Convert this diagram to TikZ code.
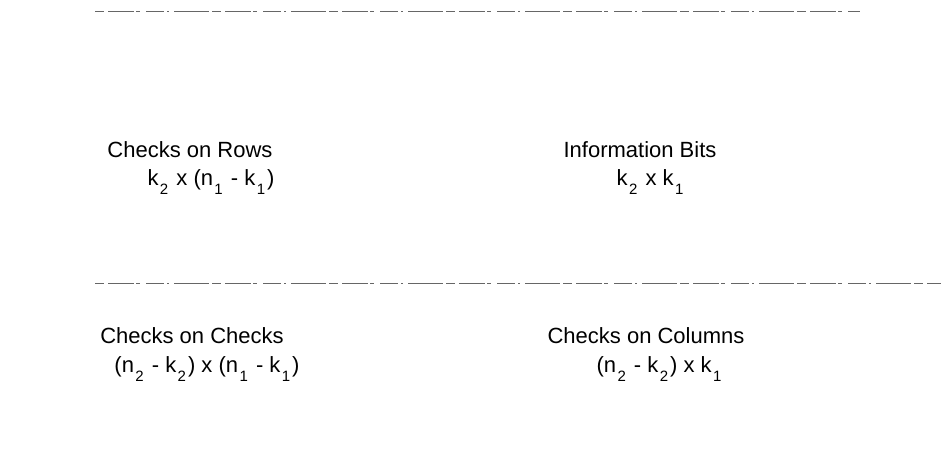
\documentclass[tikz,border=0pt]{standalone}
\usepackage{fontspec}
\setmainfont{Liberation Sans}
\newcommand{\sbx}[1]{\kern1.4pt\raisebox{-0.42em}{\fontsize{15}{15}\selectfont #1}\kern2pt\relax}
\begin{document}
\begin{tikzpicture}[x=1pt,y=-1pt,
  lbl/.style={inner sep=0pt,font=\fontsize{22}{32}\selectfont},
  scanline/.style={draw=black!60,line width=0.8pt,dash pattern=on 9pt off 4pt on 26pt off 2pt on 4pt off 6pt on 18pt off 3pt on 2pt off 5pt on 35pt off 3pt}]
\useasboundingbox (0,0) rectangle (941,457);
% broken horizontal rules
\coordinate (t1) at (95,11);
\coordinate (t2) at (860,11);
\coordinate (m1) at (95,283);
\coordinate (m2) at (941,283);
\draw[scanline] (t1) -- (t2);
\draw[scanline] (m1) -- (m2);
% labels
\node[lbl] (rows) at (190,150) {Checks on Rows};
\node[lbl] (rowsf) at (211,182) {k\sbx{2} x (n\sbx{1} - k\sbx{1})};
\node[lbl] (info) at (640,150) {Information Bits};
\node[lbl] (infof) at (651,182) {k\sbx{2} x k\sbx{1}};
\node[lbl] (cc) at (192,336) {Checks on Checks};
\node[lbl] (ccf) at (207,369) {(n\sbx{2} - k\sbx{2}) x (n\sbx{1} - k\sbx{1})};
\node[lbl] (cols) at (646,336) {Checks on Columns};
\node[lbl] (colsf) at (660,369) {(n\sbx{2} - k\sbx{2}) x k\sbx{1}};
\end{tikzpicture}
\end{document}
